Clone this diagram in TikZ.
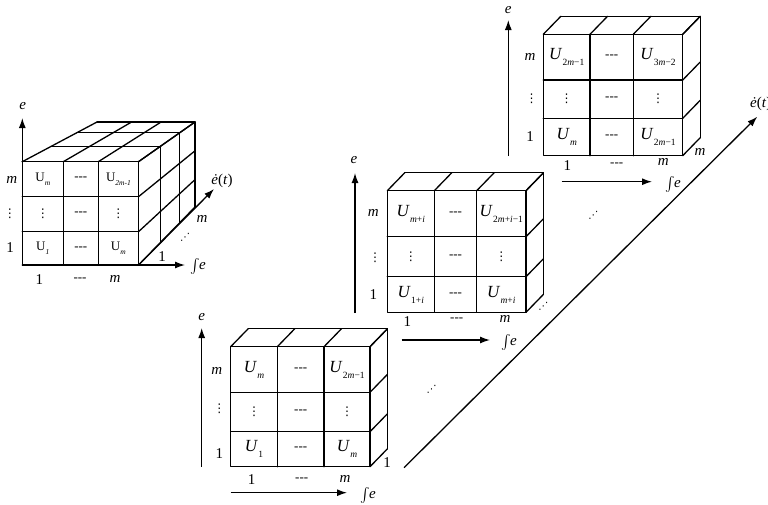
\documentclass[tikz,border=0pt]{standalone}
\usepackage{exscale}
\usepackage{fontspec}
\setmainfont{Liberation Serif}
\newfontfamily\dejavu{DejaVu Sans}
\usepackage{graphicx}
\usetikzlibrary{arrows.meta,calc}
\newcommand\Ui[1]{\textit{U}\kern0.3pt\raisebox{-0.35em}{\fontsize{9.5}{9.5}\selectfont #1}}
\newcommand\Ul[1]{\textrm{U}\raisebox{-0.3em}{\fontsize{7.5}{7.5}\selectfont\itshape #1}}
\newcommand\dsh{{\fontsize{13}{13}\selectfont -{}-{}-}}
\newcommand\vd{{\dejavu\fontsize{12}{12}\selectfont ⋮}}
\newcommand\udots{{\dejavu\fontsize{10}{10}\selectfont ⋰}}
\newcommand\inte{{\fontsize{15}{15}\selectfont$\int$}\kern-0.5pt\textit{e}}
\newcommand\flatcube[8]{%
  \draw[cube] (#1,#5) rectangle (#4,#8);
  \draw[cube] (#2,#5)--(#2,#8) (#3,#5)--(#3,#8) (#1,#6)--(#4,#6) (#1,#7)--(#4,#7);
  \foreach \xx in {#1,#2,#3,#4} \draw[cube] (\xx,#5) -- ++(17.5,-18);
  \foreach \yy in {#5,#6,#7,#8} \draw[cube] (#4,\yy) -- ++(17.5,-18);
  \draw[cube] ($(#1,#5)+(17.5,-18)$) -- ($(#4,#5)+(17.5,-18)$) -- ($(#4,#8)+(17.5,-18)$);
}
\begin{document}
\begin{tikzpicture}[x=1pt,y=-1pt,
  cube/.style={line width=1.3pt,line cap=round,line join=round},
  axis/.style={line width=1.3pt,-{Latex[length=10pt,width=7pt]}},
  lab/.style={inner sep=0pt,font=\fontsize{15}{15}\selectfont},
  cell/.style={inner sep=0pt,font=\fontsize{17}{17}\selectfont},
  lcell/.style={inner sep=0pt,font=\fontsize{13}{13}\selectfont},
  dots/.style={inner sep=0pt}]
\useasboundingbox (0,0) rectangle (768,504);

% ---------- left perspective cube ----------
\foreach \i in {0,1,2,3}{\foreach \j in {0,1,2,3}{\foreach \k in {0,1,2,3}{
  \pgfmathsetmacro\fx{{22.3,63.3,98.3,138.5}[\i]}
  \pgfmathsetmacro\bx{{97,131.6,161.1,195}[\i]}
  \pgfmathsetmacro\fy{{161.7,196.7,231.7,265}[\j]}
  \pgfmathsetmacro\by{{122,150.8,179.6,207}[\j]}
  \pgfmathsetmacro\ff{{0,0.39,0.73,1}[\k]}
  \coordinate (P\i\j\k) at ({\fx+(\bx-\fx)*\ff},{\fy+(\by-\fy)*\ff});
}}}
\foreach \n in {0,1,2,3}{
  \draw[cube] (P0\n0) -- (P3\n0);
  \draw[cube] (P\n00) -- (P\n30);
  \draw[cube] (P\n00) -- (P\n03);
  \draw[cube] (P00\n) -- (P30\n);
  \draw[cube] (P3\n0) -- (P3\n3);
  \draw[cube] (P30\n) -- (P33\n);
}
\coordinate (La) at (22.3,265);
\coordinate (Le) at (22.3,118);
\coordinate (Li) at (185,265);
\coordinate (Ld) at (214,189);
\draw[axis] (La) -- (Le);
\draw[axis] (La) -- (Li);
\draw[axis] (P330) -- (Ld);
\node[lab] (L-e) at (22.7,106) {\textit{e}};
\node[lab] (L-m) at (11.7,180) {\textit{m}};
\node[lab] (L-v) at (10,214) {\vd};
\node[lab] (L-1) at (10,248) {1};
\node[lab] (L-b1) at (39.3,280) {1};
\node[lab] (L-bd) at (80,280) {\dsh};
\node[lab] (L-bm) at (115,279) {\textit{m}};
\node[lab] (L-r1) at (162,257) {1};
\node[dots] (L-rd) at (185,237) {\udots};
\node[lab] (L-rm) at (202,219) {\textit{m}};
\node[lab] (L-et) at (222,181) {\textit{ė}(\textit{t})};
\node[lab] (L-int) at (198,266) {\inte};
\node[lcell] (L-c11) at (42.8,179.2) {\Ul{m}};
\node[lcell] (L-c12) at (80.8,179.2) {\dsh};
\node[lcell] (L-c13) at (118.4,179.2) {\Ul{2m-1}};
\node[lcell] (L-c21) at (42.8,214.2) {\vd};
\node[lcell] (L-c22) at (80.8,214.2) {\dsh};
\node[lcell] (L-c23) at (118.4,214.2) {\vd};
\node[lcell] (L-c31) at (42.8,248.3) {\Ul{1}};
\node[lcell] (L-c32) at (80.8,248.3) {\dsh};
\node[lcell] (L-c33) at (118.4,248.3) {\Ul{m}};

% ---------- bottom cube ----------
\flatcube{230.7}{277.3}{324}{370}{346.7}{392.3}{431.7}{466.7}
\coordinate (Ba) at (201.7,466.7);
\coordinate (Be) at (201.7,328);
\coordinate (Bs) at (230.7,492.7);
\coordinate (Bi) at (347,492.7);
\draw[axis] (Ba) -- (Be);
\draw[axis] (Bs) -- (Bi);
\node[lab] (B-e) at (201.7,317) {\textit{e}};
\node[lab] (B-m) at (216.7,371) {\textit{m}};
\node[lab] (B-v) at (219.3,409) {\vd};
\node[lab] (B-1) at (219.3,454) {1};
\node[lab] (B-b1) at (251.7,480) {1};
\node[lab] (B-bd) at (301.7,480) {\dsh};
\node[lab] (B-bm) at (345,479) {\textit{m}};
\node[lab] (B-r1) at (387,463) {1};
\node[lab] (B-int) at (368,495) {\inte};
\node[cell] (B-c11) at (254,369.5) {\Ui{\textit{m}}};
\node[cell] (B-c12) at (300.7,369.5) {\dsh};
\node[cell] (B-c13) at (347,369.5) {\Ui{2\textit{m}−1}};
\node[cell] (B-c21) at (254,412) {\vd};
\node[cell] (B-c22) at (300.7,412) {\dsh};
\node[cell] (B-c23) at (347,412) {\vd};
\node[cell] (B-c31) at (254,449.2) {\Ui{1}};
\node[cell] (B-c32) at (300.7,449.2) {\dsh};
\node[cell] (B-c33) at (347,449.2) {\Ui{\textit{m}}};

% ---------- middle cube ----------
\flatcube{387.3}{434.3}{476.7}{526}{190.7}{236.7}{276.7}{312.3}
\coordinate (Ma) at (355,313);
\coordinate (Me) at (355,173);
\coordinate (Ms) at (401.7,340);
\coordinate (Mi) at (490,340);
\draw[axis] (Ma) -- (Me);
\draw[axis] (Ms) -- (Mi);
\node[lab] (M-e) at (354,160) {\textit{e}};
\node[lab] (M-m) at (373.3,212.7) {\textit{m}};
\node[lab] (M-v) at (375,258) {\vd};
\node[lab] (M-1) at (373.3,295) {1};
\node[lab] (M-b1) at (407.3,322) {1};
\node[lab] (M-bd) at (456.7,320) {\dsh};
\node[lab] (M-bm) at (505,319) {\textit{m}};
\node[dots] (M-rd) at (543.3,306.7) {\udots};
\node[lab] (M-int) at (509,342) {\inte};
\node[cell] (M-c11) at (410.8,213.7) {\Ui{\textit{m}+\textit{i}}};
\node[cell] (M-c12) at (455.5,213.7) {\dsh};
\node[cell] (M-c13) at (501.3,213.7) {\Ui{2\textit{m}+\textit{i}−1}};
\node[cell] (M-c21) at (410.8,256.7) {\vd};
\node[cell] (M-c22) at (455.5,256.7) {\dsh};
\node[cell] (M-c23) at (501.3,256.7) {\vd};
\node[cell] (M-c31) at (410.8,294.5) {\Ui{1+\textit{i}}};
\node[cell] (M-c32) at (455.5,294.5) {\dsh};
\node[cell] (M-c33) at (501.3,294.5) {\Ui{\textit{m}+\textit{i}}};

% ---------- top cube ----------
\flatcube{543.3}{590}{633.3}{682.7}{34.3}{80}{118.3}{155.7}
\coordinate (Ta) at (508.3,156);
\coordinate (Te) at (508.3,20);
\coordinate (Ts) at (561.7,181.7);
\coordinate (Ti) at (652,181.7);
\draw[axis] (Ta) -- (Te);
\draw[axis] (Ts) -- (Ti);
\node[lab] (T-e) at (508.3,10) {\textit{e}};
\node[lab] (T-m) at (530,56.7) {\textit{m}};
\node[lab] (T-v) at (531.7,98.3) {\vd};
\node[lab] (T-1) at (530,136.7) {1};
\node[lab] (T-b1) at (567.3,166) {1};
\node[lab] (T-bd) at (616.7,165) {\dsh};
\node[lab] (T-bm) at (663.3,162) {\textit{m}};
\node[lab] (T-rm) at (700,152) {\textit{m}};
\node[lab] (T-int) at (673,184) {\inte};
\node[cell] (T-c11) at (566.7,57.2) {\Ui{2\textit{m}−1}};
\node[cell] (T-c12) at (611.7,57.2) {\dsh};
\node[cell] (T-c13) at (658,57.2) {\Ui{3\textit{m}−2}};
\node[cell] (T-c21) at (566.7,99.2) {\vd};
\node[cell] (T-c22) at (611.7,99.2) {\dsh};
\node[cell] (T-c23) at (658,99.2) {\vd};
\node[cell] (T-c31) at (566.7,137) {\Ui{\textit{m}}};
\node[cell] (T-c32) at (611.7,137) {\dsh};
\node[cell] (T-c33) at (658,137) {\Ui{2\textit{m}−1}};

% ---------- big diagonal ----------
\coordinate (Da) at (404,467.7);
\coordinate (Db) at (757.3,116.7);
\draw[axis] (Da) -- (Db);
\node[lab,anchor=west] (D-et) at (750,104) {\textit{ė}(\textit{t})};
\node[dots] (D-d1) at (431.7,389) {\udots};
\node[dots] (D-d2) at (593.3,215) {\udots};
\end{tikzpicture}
\end{document}
